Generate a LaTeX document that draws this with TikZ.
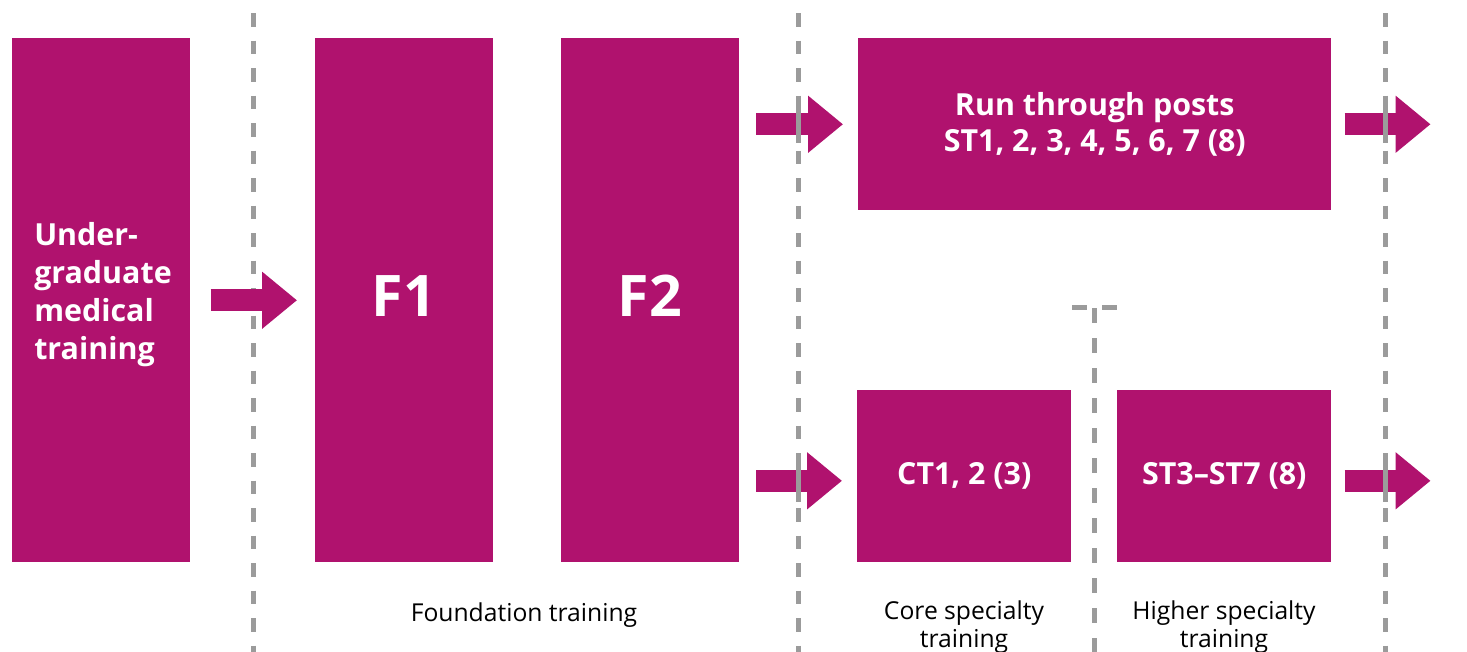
\documentclass[tikz,border=0pt]{standalone}
\usepackage{fontspec}
\setmainfont{Open Sans}
\usetikzlibrary{arrows.meta}
\definecolor{mag}{RGB}{176,18,110}
\definecolor{dgray}{RGB}{155,155,155}
\begin{document}
\begin{tikzpicture}[x=0.75pt,y=-0.75pt,
  box/.style={fill=mag,draw=none,inner sep=0pt,anchor=north west,text=white,font=\bfseries\fontsize{22.8}{27.5}\selectfont},
  bigbox/.style={box,minimum width=178*0.75pt,minimum height=524*0.75pt},
  smallbox/.style={box,minimum width=214*0.75pt,minimum height=172*0.75pt},
  boxtext/.style={inner sep=0pt,text=white,font=\bfseries\fontsize{22.8}{28.5}\selectfont},
  bigtext/.style={inner sep=0pt,text=white,anchor=base,font=\bfseries\fontsize{43}{50}\selectfont},
  blk/.style={draw=mag,line width=16.5pt,-{Triangle[length=26.25pt,width=41.25pt]}},
  sep/.style={draw=dgray,line width=3.75pt,dash pattern=on 10.125pt off 10.5pt},
  sepb/.style={draw=dgray,line width=3.75pt,dash pattern=on 11.25pt off 11.25pt},
  sepsolid/.style={draw=dgray,line width=3.75pt},
  lab/.style={inner sep=0pt,align=center,anchor=base,font=\fontsize{18.5}{21}\selectfont}]
\useasboundingbox (0,0) rectangle (1467,651);
% dashed separators (under arrows)
\draw[sep] (253,13) -- (253,660);
\draw[sep] (798,13) -- (798,660);
\draw[sep] (1385,13) -- (1385,660);
\draw[sepb] (1094,308) -- (1094,660);
\draw[sepsolid] (1072,307) -- (1087,307);
\draw[sepsolid] (1102,307) -- (1117,307);
% boxes
\node[bigbox] (ug) at (12,38) {};
\node[boxtext,align=left,anchor=base west] (ugt) at (34,359) {Under-\\graduate\\medical\\training};
\node[bigbox] (f1) at (315,38) {};
\node[bigtext] (f1t) at (404,316) {F1};
\node[bigbox] (f2) at (561,38) {};
\node[bigtext] (f2t) at (650,316) {F2};
\node[box,minimum width=473*0.75pt,minimum height=172*0.75pt,align=center] (run) at (858,38) {Run through posts\\ST1, 2, 3, 4, 5, 6, 7 (8)};
\node[smallbox] (ct) at (857,390) {CT1, 2 (3)};
\node[smallbox] (st) at (1117,390) {ST3–ST7 (8)};
% block arrows
\draw[blk] ([xshift=20*0.75pt]ug.east) -- ([xshift=-18*0.75pt]f1.west);
\draw[blk] ([xshift=-102*0.75pt]run.west) -- ([xshift=-15*0.75pt]run.west);
\draw[blk] ([xshift=13*0.75pt]run.east) -- ([xshift=99*0.75pt]run.east);
\draw[blk] ([xshift=-101*0.75pt,yshift=-3.4pt]ct.west) -- ([xshift=-15*0.75pt,yshift=-3.4pt]ct.west);
\draw[blk] ([xshift=13*0.75pt,yshift=-3.4pt]st.east) -- ([xshift=99*0.75pt,yshift=-3.4pt]st.east);
% separator segments over arrows
\draw[sepsolid] (798,99) -- (798,143);
\draw[sepsolid] (1385,99) -- (1385,143);
\draw[sepsolid] (798,457) -- (798,502);
\draw[sepsolid] (1385,457) -- (1385,502);
% phase labels
\node[lab] (fnd) at (524,621) {Foundation training};
\node[lab] (core) at (964,647) {Core specialty\\training};
\node[lab] (high) at (1224,647) {Higher specialty\\training};
\end{tikzpicture}
\end{document}
